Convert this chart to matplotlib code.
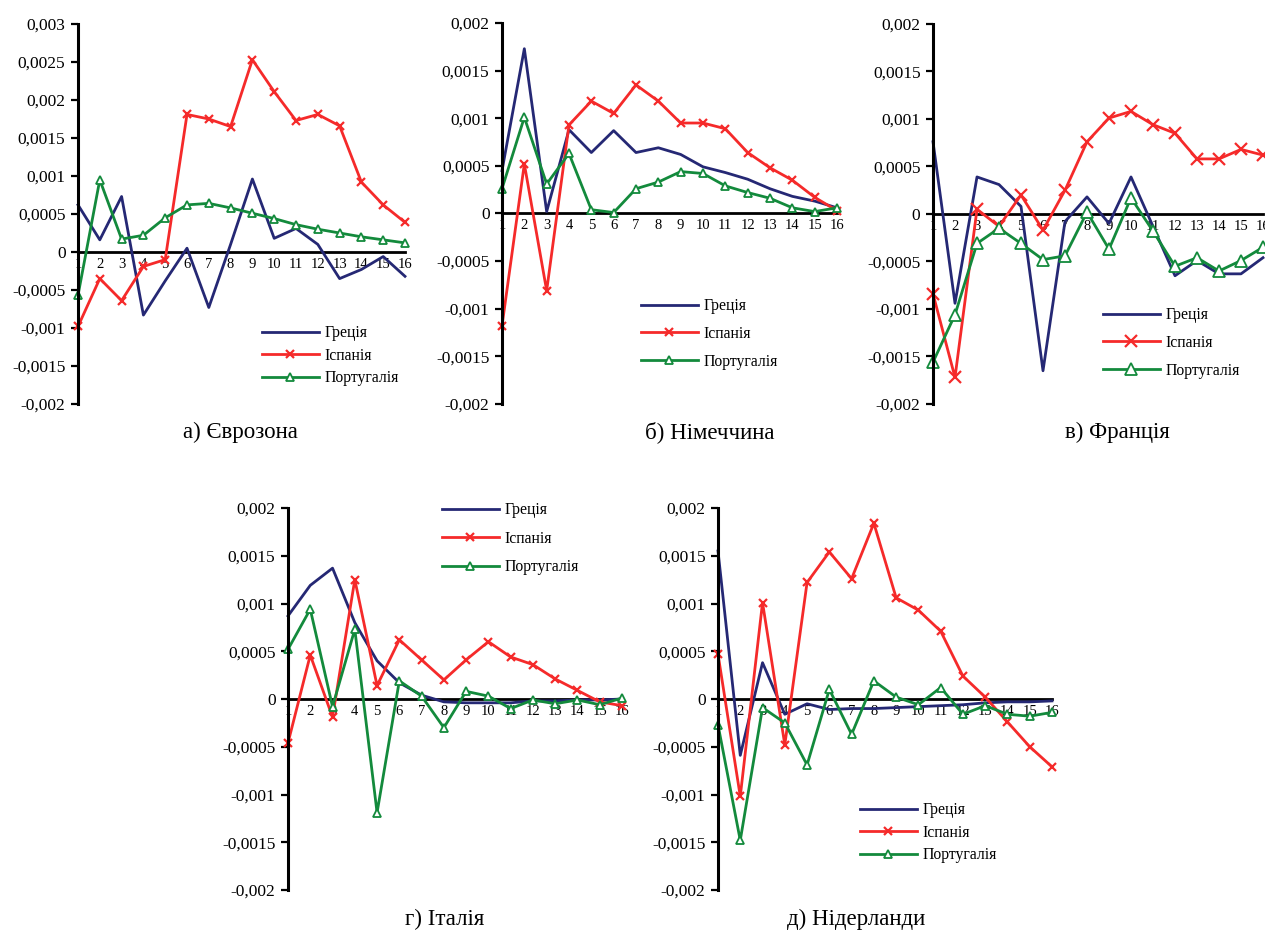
import matplotlib
matplotlib.use("Agg")
import matplotlib.pyplot as plt
from matplotlib.ticker import FuncFormatter

plt.rcParams['font.family'] = ['Liberation Serif', 'DejaVu Serif']

periods = list(range(1, 17))
series_names = ['Греція', 'Іспанія', 'Португалія']

# а) Єврозона
ez_greece = [0.00062, 0.00016, 0.00073, -0.00083, -0.00038, 0.00005, -0.00073, 0.0001,
             0.00096, 0.00018, 0.00031, 0.0001, -0.00035, -0.00023, -0.00006, -0.00032]
ez_spain = [-0.00098, -0.00035, -0.00064, -0.00019, -0.0001, 0.00181, 0.00175, 0.00165,
            0.00253, 0.00211, 0.00173, 0.00181, 0.00166, 0.00092, 0.00062, 0.00039]
ez_portugal = [-0.00057, 0.00095, 0.00017, 0.00022, 0.00045, 0.00062, 0.00064, 0.00058,
               0.00051, 0.00044, 0.00036, 0.0003, 0.00025, 0.0002, 0.00016, 0.00012]

# б) Німеччина
de_greece = [0.00045, 0.00173, 0.00002, 0.00088, 0.00064, 0.00087, 0.00064, 0.00069,
             0.00062, 0.00049, 0.00043, 0.00036, 0.00026, 0.00018, 0.00013, 0.00006]
de_spain = [-0.00118, 0.00052, -0.00081, 0.00093, 0.00118, 0.00105, 0.00135, 0.00118,
            0.00095, 0.00095, 0.00089, 0.00064, 0.00048, 0.00035, 0.00017, 0.00003]
de_portugal = [0.00026, 0.00101, 0.00031, 0.00063, 0.00004, 0.00001, 0.00026, 0.00033,
               0.00044, 0.00042, 0.00029, 0.00022, 0.00016, 0.00006, 0.00002, 0.00006]

# в) Франція
fr_greece = [0.00076, -0.00094, 0.00039, 0.00031, 0.00008, -0.00165, -0.00008, 0.00018,
             -0.0001, 0.00039, -0.00013, -0.00065, -0.00049, -0.00063, -0.00063, -0.00046]
fr_spain = [-0.00084, -0.00172, 0.00005, -0.00013, 0.0002, -0.00017, 0.00025, 0.00076,
            0.00101, 0.00108, 0.00094, 0.00085, 0.00058, 0.00058, 0.00068, 0.00062]
fr_portugal = [-0.00156, -0.00106, -0.00031, -0.00015, -0.00031, -0.00048, -0.00044, 0.00002,
               -0.00037, 0.00017, -0.00018, -0.00055, -0.00046, -0.0006, -0.00049, -0.00035]

# г) Італія
it_greece = [0.00087, 0.00119, 0.00137, 0.0008, 0.0004, 0.00017, 0.00004, -0.00003,
             -0.00004, -0.00004, -0.00004, -0.00002, -0.00002, -0.00001, -0.00001, 0.0]
it_spain = [-0.00046, 0.00046, -0.00019, 0.00125, 0.00014, 0.00062, 0.00041, 0.0002,
            0.00041, 0.0006, 0.00044, 0.00036, 0.00021, 0.00009, -0.00003, -0.00007]
it_portugal = [0.00052, 0.00094, -0.00008, 0.00073, -0.00119, 0.00019, 0.00003, -0.0003,
               0.00008, 0.00003, -0.0001, -0.00001, -0.00005, -0.00001, -0.00006, 0.00001]

# д) Нідерланди
nl_greece = [0.00155, -0.00059, 0.00038, -0.00016, -0.00005, -0.00011, -0.0001, -0.0001,
             -0.00009, -0.00008, -0.00007, -0.00006, -0.00004, -0.00003, -0.00003, -0.00002]
nl_spain = [0.00047, -0.00102, 0.00101, -0.00048, 0.00122, 0.00154, 0.00126, 0.00184,
            0.00106, 0.00093, 0.00071, 0.00024, 0.00002, -0.00024, -0.0005, -0.00071]
nl_portugal = [-0.00027, -0.00148, -0.00009, -0.00025, -0.00069, 0.0001, -0.00037, 0.00019,
               0.00002, -0.00006, 0.00012, -0.00016, -0.00007, -0.00016, -0.00018, -0.00014]

W, H = 1265, 930
fig = plt.figure(figsize=(W / 100, H / 100), dpi=100)

col_gr = '#252874'
col_es = '#f52a2a'
col_pt = '#138a3c'


def fmt(v, pos):
    if abs(v) < 1e-12:
        return '0'
    return f'{v:g}'.replace('.', ',')


def panel(box, data, ylim, title, title_xy, leg_xy, leg_space, msize):
    l, r, t, b = box
    ax = fig.add_axes([l / W, 1 - b / H, (r - l) / W, (b - t) / H])
    gr, es, pt = data
    ax.plot(periods, gr, color=col_gr, lw=2, label=series_names[0], clip_on=False)
    ax.plot(periods, es, color=col_es, lw=2, marker='x', ms=msize, mew=1.6,
            label=series_names[1], clip_on=False)
    ax.plot(periods, pt, color=col_pt, lw=2, marker='^', ms=msize, mew=1.3,
            mfc='white', label=series_names[2], clip_on=False)
    ax.set_xlim(1, 16)
    ax.set_ylim(*ylim)
    ax.set_yticks([v / 10000 for v in range(int(ylim[0] * 10000), int(ylim[1] * 10000) + 1, 5)])
    ax.yaxis.set_major_formatter(FuncFormatter(fmt))
    ax.set_xticks(periods)
    ax.spines['top'].set_visible(False)
    ax.spines['right'].set_visible(False)
    ax.spines['left'].set_linewidth(2.2)
    ax.spines['bottom'].set_position(('data', 0))
    ax.spines['bottom'].set_linewidth(2)
    ax.spines['bottom'].set_zorder(1)
    ax.tick_params(axis='y', direction='out', length=5, width=1.6, labelsize=12.5, pad=4)
    ax.tick_params(axis='x', length=0, labelsize=10.5, pad=4)
    ax.patch.set_alpha(0)
    fig.text(title_xy[0] / W, 1 - title_xy[1] / H, title, ha='center', va='center', fontsize=16.5)
    ax.legend(loc='upper left', bbox_to_anchor=(leg_xy[0] / W, 1 - leg_xy[1] / H),
              bbox_transform=fig.transFigure, frameon=False, fontsize=11.3,
              borderpad=0, borderaxespad=0, handlelength=3.6, handletextpad=0.4,
              labelspacing=leg_space)
    return ax


panel((78, 405, 24, 404), (ez_greece, ez_spain, ez_portugal), (-0.002, 0.003),
      'а) Єврозона', (240, 432), (262, 325), 0.42, 5.5)
panel((502, 837, 23, 404), (de_greece, de_spain, de_portugal), (-0.002, 0.002),
      'б) Німеччина', (710, 432), (641, 298), 0.75, 5.5)
panel((933, 1263, 24, 404), (fr_greece, fr_spain, fr_portugal), (-0.002, 0.002),
      'в) Франція', (1117, 432), (1103, 307), 0.75, 8.5)
panel((288, 622, 508, 890), (it_greece, it_spain, it_portugal), (-0.002, 0.002),
      'г) Італія', (445, 919), (442, 502), 0.8, 5.5)
panel((718, 1052, 508, 890), (nl_greece, nl_spain, nl_portugal), (-0.002, 0.002),
      'д) Нідерланди', (856, 919), (860, 802), 0.42, 5.5)

fig.savefig('out.png', dpi=100)
